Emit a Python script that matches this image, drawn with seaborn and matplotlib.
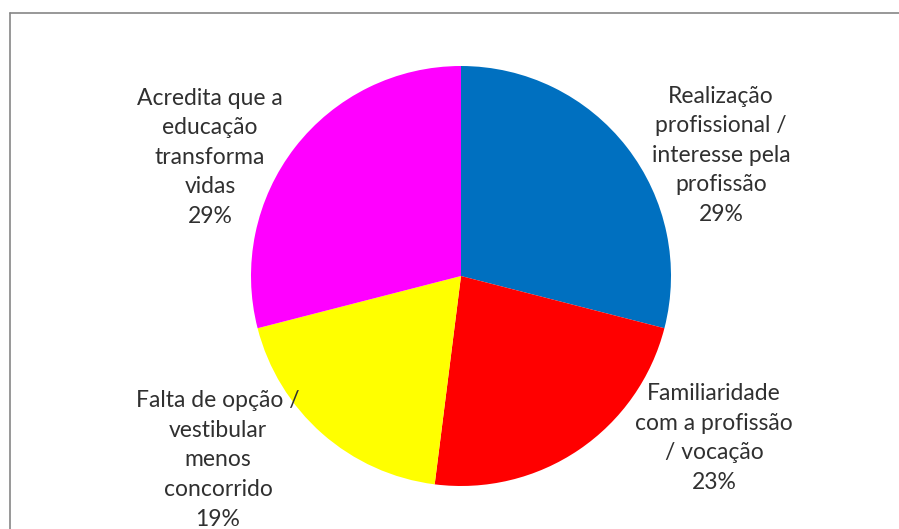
import matplotlib
matplotlib.use("Agg")
import matplotlib.pyplot as plt
import seaborn as sns
from matplotlib.lines import Line2D

sns.set_theme(style="white")
plt.rcParams['font.family'] = ['Lato', 'DejaVu Sans']

categories = [
    "Realização\nprofissional /\ninteresse pela\nprofissão",
    "Familiaridade\ncom a profissão\n/ vocação",
    "Falta de opção /\nvestibular\nmenos\nconcorrido",
    "Acredita que a\neducação\ntransforma\nvidas",
]
values = [29, 23, 19, 29]
colors = ["#0070C0", "#FF0000", "#FFFF00", "#FF00FF"]
# label anchor positions (figure pixel coords of label centres)
label_px = [(721, 155), (714, 438), (218, 460), (210, 157)]

W, H, DPI = 899, 529, 100
fig = plt.figure(figsize=(W / DPI, H / DPI), dpi=DPI)
ax = fig.add_axes([0, 0, 1, 1])

cx, cy, R = 461, 276, 210
ax.pie(values, colors=colors, startangle=90, counterclock=False,
       radius=1, center=(0, 0), wedgeprops=dict(linewidth=0))
ax.set_xlim(-cx / R, (W - cx) / R)
ax.set_ylim(-(H - cy) / R, cy / R)
ax.set_aspect("equal")
ax.axis("off")

total = sum(values)
for cat, v, (px, py) in zip(categories, values, label_px):
    x = (px - cx) / R
    y = (cy - py) / R
    ax.text(x, y, f"{cat}\n{round(100 * v / total)}%", ha="center", va="center",
            fontsize=16.5, color="#303030", linespacing=1.5)

# chart frame (top and left edges visible)
fig.add_artist(Line2D([10 / W, 1], [1 - 13 / H, 1 - 13 / H], transform=fig.transFigure,
                      color="#868686", linewidth=1.2))
fig.add_artist(Line2D([10 / W, 10 / W], [0, 1 - 13 / H], transform=fig.transFigure,
                      color="#868686", linewidth=1.2))

fig.savefig("out.png", dpi=DPI)
